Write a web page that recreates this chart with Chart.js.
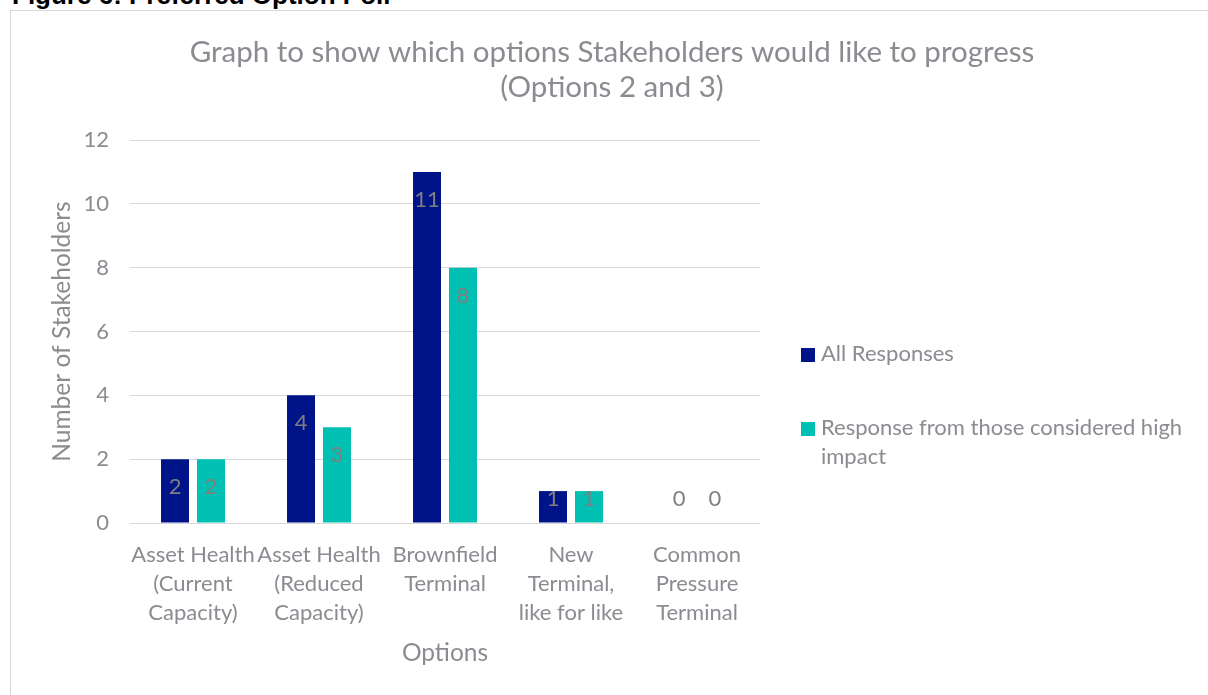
<!DOCTYPE html>
<html>
<head>
<meta charset="utf-8">
<script src="https://cdn.jsdelivr.net/npm/chart.js@4.4.0/dist/chart.umd.min.js"></script>
<style>
  html, body { margin: 0; padding: 0; background: #fff; overflow: hidden; width: 1208px; height: 695px; }
  #caption { position: absolute; left: 12px; top: -18px; font: bold 26px "Liberation Sans", Arial, sans-serif; line-height: 27px; color: #000; white-space: nowrap; }
  #frame { position: absolute; left: 10px; top: 10px; width: 1300px; height: 800px; border-left: 1px solid #d9d9d9; border-top: 1px solid #d9d9d9; }
  canvas { position: absolute; left: 0; top: 0; }
</style>
</head>
<body>
<div id="caption">Figure 6: Preferred Option Poll</div>
<div id="frame"></div>
<canvas id="poll" width="1208" height="695"></canvas>
<script>
// Options put to stakeholders (multi-line axis labels)
const categories = [
  ['Asset Health', '(Current', 'Capacity)'],
  ['Asset Health', '(Reduced', 'Capacity)'],
  ['Brownfield', 'Terminal'],
  ['New', 'Terminal,', 'like for like'],
  ['Common', 'Pressure', 'Terminal']
];
const seriesNames = ['All Responses', 'Response from those considered high impact'];
const allResponses = [2, 4, 11, 1, 0];
const highImpactResponses = [2, 3, 8, 1, 0];
const yTicks = [0, 2, 4, 6, 8, 10, 12];

const chartTitle = ['Graph to show which options Stakeholders would like to progress', '(Options 2 and 3)'];
const yTitle = 'Number of Stakeholders';
const xTitle = 'Options';

const NAVY = '#001489';
const TEAL = '#00bfb3';
const GREY_TEXT = '#8b8b91';
const FONT = 'Lato';

// value labels placed just inside the top of each bar
const barValueLabels = {
  id: 'barValueLabels',
  afterDatasetsDraw(chart, args, o) {
    const ctx = chart.ctx;
    ctx.save();
    ctx.font = `${o.size}px ${FONT}`;
    ctx.fillStyle = o.color;
    ctx.textAlign = 'center';
    ctx.textBaseline = 'middle';
    chart.data.datasets.forEach((ds, di) => {
      chart.getDatasetMeta(di).data.forEach((bar, i) => {
        const y = Math.min(bar.y + o.inset, bar.base - o.minRise);
        ctx.fillText(String(ds.data[i]), bar.x, y);
      });
    });
    ctx.restore();
  }
};

function wrapText(ctx, text, maxWidth) {
  const words = text.split(' ');
  const lines = [];
  let line = '';
  words.forEach(w => {
    const test = line ? line + ' ' + w : w;
    if (line && ctx.measureText(test).width > maxWidth) {
      lines.push(line);
      line = w;
    } else {
      line = test;
    }
  });
  if (line) lines.push(line);
  return lines;
}

// legend drawn to the right of the plot with wrapped labels
const sideLegend = {
  id: 'sideLegend',
  afterDraw(chart, args, o) {
    const ctx = chart.ctx;
    ctx.save();
    ctx.font = `${o.size}px ${FONT}`;
    ctx.textBaseline = 'middle';
    ctx.textAlign = 'left';
    chart.data.datasets.forEach((ds, i) => {
      const y = o.top + i * o.itemGap;
      ctx.fillStyle = ds.backgroundColor;
      ctx.fillRect(o.x, y - o.box / 2, o.box, o.box);
      ctx.fillStyle = o.color;
      wrapText(ctx, ds.label, o.maxWidth).forEach((line, k) => {
        ctx.fillText(line, o.x + o.box + o.gap, y - 1 + k * o.lineHeight);
      });
    });
    ctx.restore();
  }
};

function draw() {
  Chart.defaults.font.family = FONT;
  Chart.defaults.color = GREY_TEXT;

  new Chart(document.getElementById('poll'), {
    type: 'bar',
    data: {
      labels: categories,
      datasets: [
        { label: seriesNames[0], data: allResponses, backgroundColor: NAVY },
        { label: seriesNames[1], data: highImpactResponses, backgroundColor: TEAL }
      ]
    },
    options: {
      responsive: false,
      animation: false,
      events: [],
      categoryPercentage: 0.571,
      barPercentage: 0.778,
      layout: { padding: { left: 16, right: 0, top: 0, bottom: 0 } },
      plugins: {
        legend: { display: false },
        tooltip: { enabled: false },
        title: {
          display: true,
          text: chartTitle,
          color: GREY_TEXT,
          font: { size: 29.5, weight: 'normal', lineHeight: '35px' },
          padding: { top: 34.5, bottom: 35.5 }
        },
        barValueLabels: { size: 22, color: '#7f7f7f', inset: 28, minRise: 24 },
        sideLegend: { x: 801, top: 355, itemGap: 74, box: 14, gap: 6, size: 22, lineHeight: 29, maxWidth: 380, color: GREY_TEXT }
      },
      scales: {
        x: {
          grid: { display: false },
          border: { display: false },
          ticks: { color: GREY_TEXT, font: { size: 22, lineHeight: '29px' }, padding: 9.5, maxRotation: 0, autoSkip: false },
          title: { display: true, text: xTitle, color: GREY_TEXT, font: { size: 24.5, lineHeight: 1.2 }, padding: { top: 0, bottom: 27.3 } },
          afterFit(s) { s.height = 172; }
        },
        y: {
          min: yTicks[0],
          max: yTicks[yTicks.length - 1],
          grid: { color: '#d9d9d9', lineWidth: 1, drawTicks: false },
          border: { display: false },
          ticks: { stepSize: yTicks[1] - yTicks[0], color: GREY_TEXT, font: { size: 22 }, padding: 21 },
          title: { display: true, text: yTitle, color: GREY_TEXT, font: { size: 24.5, lineHeight: 1.2 }, padding: { top: 31.3, bottom: 0 } },
          afterFit(s) { s.width = 114; }
        },
        legendSpace: {
          type: 'linear',
          position: 'right',
          display: true,
          grid: { display: false },
          border: { display: false },
          ticks: { display: false },
          afterFit(s) { s.width = 448; }
        }
      }
    },
    plugins: [barValueLabels, sideLegend]
  });
}

if (document.fonts && document.fonts.load) {
  Promise.all([
    document.fonts.load(`22px ${FONT}`),
    document.fonts.load('bold 26px "Liberation Sans"')
  ]).then(draw, draw);
} else {
  draw();
}
</script>
</body>
</html>
